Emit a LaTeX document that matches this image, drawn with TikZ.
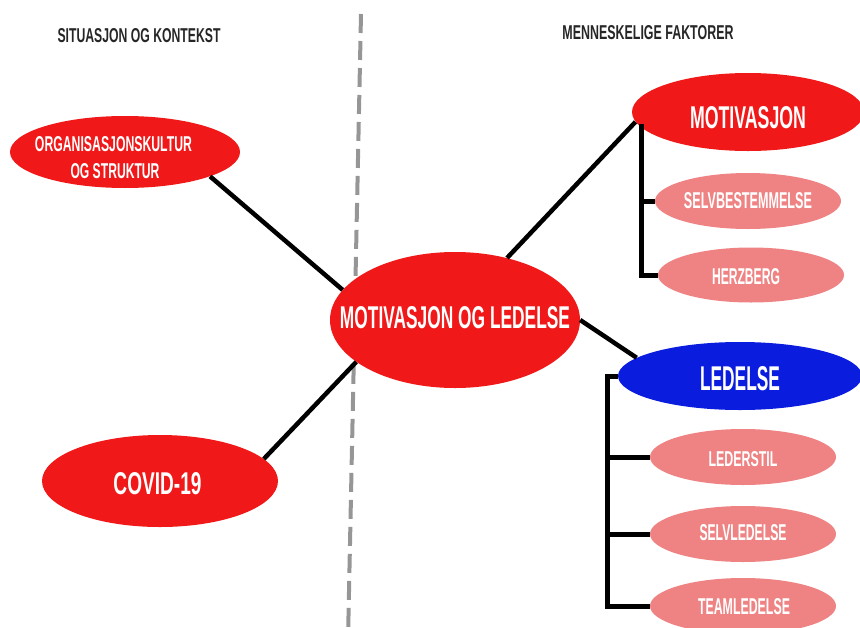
\documentclass[tikz,border=0pt]{standalone}
\usepackage{fontspec}
\setmainfont{Liberation Sans}
\usetikzlibrary{shapes.geometric}
\definecolor{bigred}{RGB}{240,24,24}
\definecolor{pinky}{RGB}{239,130,130}
\definecolor{bigblue}{RGB}{10,28,222}
\definecolor{dashgray}{RGB}{150,150,150}
\newcommand{\fitt}[3]{\resizebox{#1pt}{#2pt}{\bfseries #3}}
\tikzset{
  ell/.style={ellipse, inner sep=0pt, draw=none},
  redell/.style={ell, fill=bigred},
  pinkell/.style={ell, fill=pinky},
  blueell/.style={ell, fill=bigblue},
  txt/.style={inner sep=0pt, text=white},
  hdr/.style={inner sep=0pt, text=black!85},
  link/.style={line width=4.5pt, black},
  brk/.style={line width=5pt, black},
}
\begin{document}
\begin{tikzpicture}[x=1pt,y=-1pt]
\useasboundingbox (0,0) rectangle (860,627);
\clip (0,0) rectangle (860,627);
% divider
\coordinate (dtop) at (361,14);
\coordinate (dbot) at (348,640);
\draw[dashgray, line width=4pt, dash pattern=on 19pt off 8pt] (dtop) -- (dbot);
% headers
\node[hdr] (h1) at (139,36) {\fitt{163}{14}{SITUASJON OG KONTEKST}};
\node[hdr] (h2) at (648,33) {\fitt{171}{14}{MENNESKELIGE FAKTORER}};
% ellipses
\node[redell, minimum width=250pt, minimum height=136pt] (c) at (455,320) {};
\node[redell, minimum width=230pt, minimum height=72pt] (org) at (125,152) {};
\node[redell, minimum width=236pt, minimum height=92pt] (cov) at (160,481) {};
\node[redell, minimum width=232pt, minimum height=78pt] (mot) at (748,112) {};
\node[pinkell, minimum width=186pt, minimum height=56pt] (selv) at (748,201) {};
\node[pinkell, minimum width=186pt, minimum height=55pt] (herz) at (751,275) {};
\node[blueell, minimum width=244pt, minimum height=68pt] (led) at (740,376) {};
\node[pinkell, minimum width=186pt, minimum height=56pt] (lstil) at (743,457) {};
\node[pinkell, minimum width=186pt, minimum height=56pt] (sled) at (743,534) {};
\node[pinkell, minimum width=186pt, minimum height=56pt] (team) at (743,606) {};
% texts
\node[txt] at (455,318) {\fitt{230}{22}{MOTIVASJON OG LEDELSE}};
\node[txt] at (113.5,144) {\fitt{157}{15}{ORGANISASJONSKULTUR}};
\node[txt] at (115,171) {\fitt{89}{15}{OG STRUKTUR}};
\node[txt] at (157.5,484) {\fitt{88}{22}{COVID-19}};
\node[txt] at (748,117.5) {\fitt{116}{22}{MOTIVASJON}};
\node[txt] at (748,201) {\fitt{128}{16}{SELVBESTEMMELSE}};
\node[txt] at (746,277) {\fitt{68}{16}{HERZBERG}};
\node[txt] at (740,379) {\fitt{80}{24}{LEDELSE}};
\node[txt] at (743,459) {\fitt{69}{15}{LEDERSTIL}};
\node[txt] at (743,533) {\fitt{87}{16}{SELVLEDELSE}};
\node[txt] at (744,607) {\fitt{92}{16}{TEAMLEDELSE}};
% links
\draw[link] (c.165) -- (org.344);
\draw[link] (c.203) -- (cov.12);
\draw[link] (c.50) -- (mot.185);
\draw[link] (c.0) -- (led.170);
% brackets
\coordinate (mb) at (641,124);
\draw[brk] (mb) |- (herz.west);
\draw[brk] (mb |- selv.west) -- (selv.west);
\coordinate (lb) at (607,376);
\draw[brk] (led.west) -- (lb) |- (team.west);
\draw[brk] (lb |- lstil.west) -- (lstil.west);
\draw[brk] (lb |- sled.west) -- (sled.west);
\end{tikzpicture}
\end{document}
